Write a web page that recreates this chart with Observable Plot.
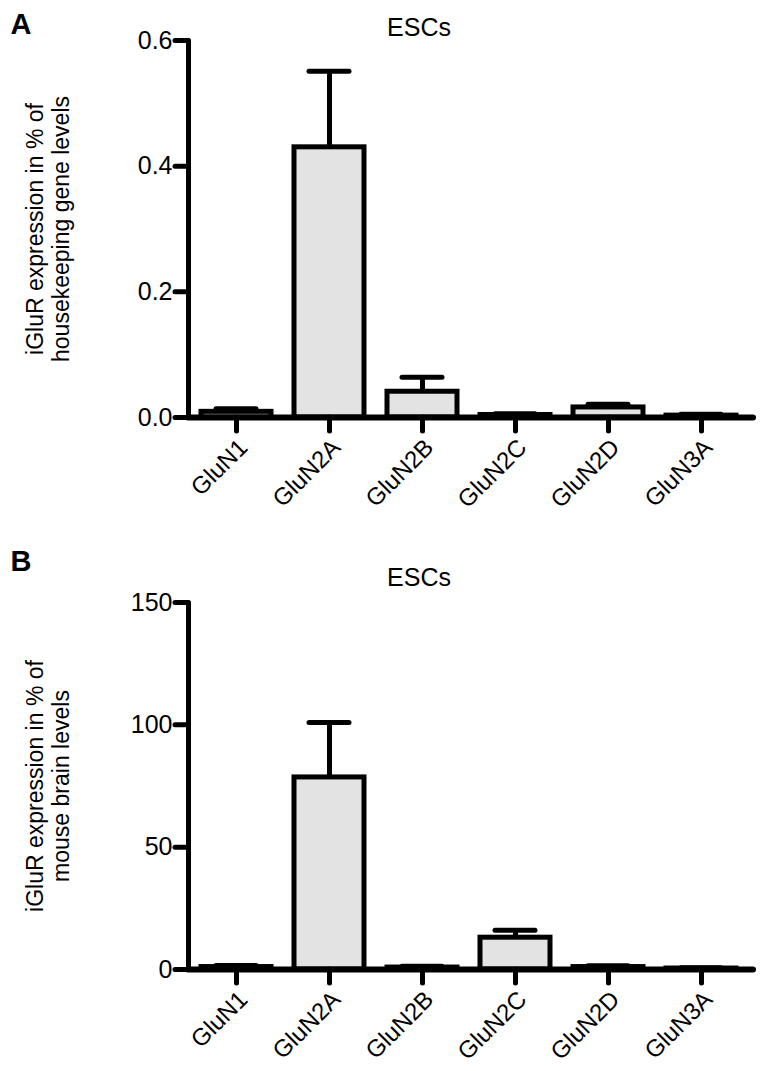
<!DOCTYPE html>
<html>
<head>
<meta charset="utf-8">
<script src="https://cdn.jsdelivr.net/npm/d3@7"></script>
<script src="https://cdn.jsdelivr.net/npm/@observablehq/plot@0.6"></script>
<style>
  body { margin: 0; background: #fff; }
  #chart { width: 767px; font-family: "Liberation Sans", Arial, sans-serif; }
  #chart svg { display: block; }
  #chart g[aria-label="y-axis tick label"] { font-size: 25px; }
  #chart g[aria-label="x-axis tick label"] { font-size: 24px; }
</style>
</head>
<body>
<div id="chart"></div>
<script>
const genes = ["GluN1", "GluN2A", "GluN2B", "GluN2C", "GluN2D", "GluN3A"];
const meanA = [0.009, 0.43, 0.041, 0.004, 0.016, 0.003];
const errA  = [0.005, 0.121, 0.023, 0.002, 0.005, 0.002];
const meanB = [1.0, 78.5, 0.8, 13.0, 1.0, 0.4];
const errB  = [0.6, 22.5, 0.5, 3.0, 0.5, 0.3];
const ticksA = [0, 0.2, 0.4, 0.6];
const ticksB = [0, 50, 100, 150];
const titleText = "ESCs";
const yLabelA = "iGluR expression in % of\nhousekeeping gene levels";
const yLabelB = "iGluR expression in % of\nmouse brain levels";

const font = "Liberation Sans, Arial, sans-serif";

function panel({letter, means, errs, ticks, fmt, ylabel, height, marginTop, marginBottom, titleDy, letterDy}) {
  const data = genes.map((g, i) => ({gene: g, value: means[i], top: means[i] + errs[i]}));
  return Plot.plot({
    width: 767,
    height,
    marginLeft: 188,
    marginRight: 18,
    marginTop,
    marginBottom,
    style: {fontFamily: font, color: "black", background: "white"},
    x: {domain: genes, paddingInner: 0.25, paddingOuter: 0.125, label: null},
    y: {domain: [ticks[0], ticks[ticks.length - 1]], label: null},
    marks: [
      Plot.barY(data, {x: "gene", y: "value", fill: "#e3e3e3", stroke: "black", strokeWidth: 5}),
      Plot.ruleX(data, {x: "gene", y1: "value", y2: "top", stroke: "black", strokeWidth: 5}),
      Plot.tickY(data, {x: "gene", y: "top", stroke: "black", strokeWidth: 5, strokeLinecap: "round", insetLeft: 15, insetRight: 15}),
      Plot.axisY({ticks, tickFormat: fmt, tickSize: 13, tickPadding: 3, fontSize: 25, strokeWidth: 5, strokeLinecap: "round", label: null}),
      Plot.axisX({tickSize: 14, tickPadding: 4, tickRotate: -45, fontSize: 24, strokeWidth: 5, strokeLinecap: "round", label: null}),
      Plot.ruleY([0], {stroke: "black", strokeWidth: 6, insetRight: -4, strokeLinecap: "round"}),
      Plot.frame({anchor: "left", stroke: "black", strokeWidth: 5, strokeLinecap: "round"}),
      Plot.text([ylabel], {frameAnchor: "left", rotate: -90, dx: -141, textAnchor: "middle", fontSize: 23, lineHeight: 1.12, fill: "black"}),
      Plot.text([titleText], {frameAnchor: "top", dx: -50, dy: titleDy, fontSize: 25, fill: "black"}),
      Plot.text([letter], {frameAnchor: "top-left", dx: -178, dy: letterDy, fontSize: 29, fontWeight: "bold", textAnchor: "start", fill: "black"})
    ]
  });
}

const chart = document.getElementById("chart");
chart.append(panel({
  letter: "A", means: meanA, errs: errA, ticks: ticksA, fmt: d3.format(".1f"),
  ylabel: yLabelA, height: 535, marginTop: 40, marginBottom: 118, titleDy: -22, letterDy: -27
}));
chart.append(panel({
  letter: "B", means: meanB, errs: errB, ticks: ticksB, fmt: d3.format("d"),
  ylabel: yLabelB, height: 536, marginTop: 67, marginBottom: 102, titleDy: -34, letterDy: -52
}));
// shift rotated x tick labels slightly down/right as in the reference
document.querySelectorAll('#chart g[aria-label="x-axis tick label"]').forEach(g => {
  g.setAttribute("transform", (g.getAttribute("transform") || "") + " translate(7,8)");
});
</script>
</body>
</html>
